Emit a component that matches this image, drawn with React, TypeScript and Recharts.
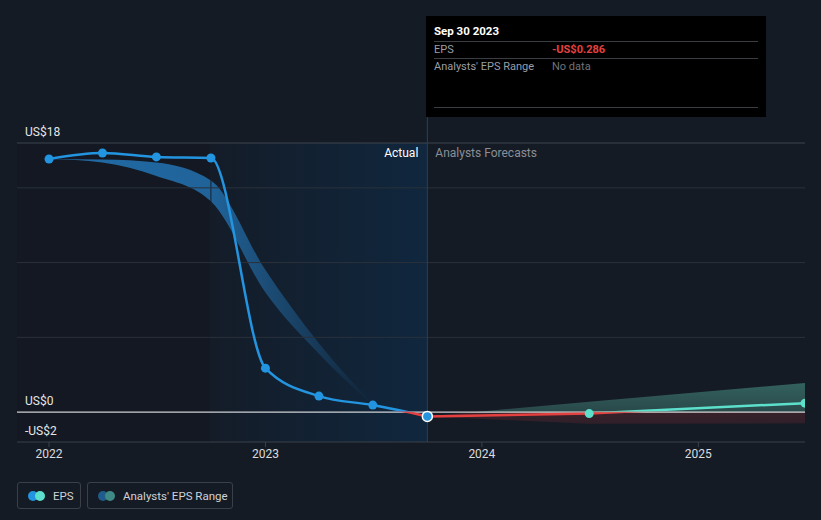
import React from "react";
import {
  ComposedChart,
  Line,
  Area,
  XAxis,
  YAxis,
  ReferenceLine,
  ReferenceArea,
} from "recharts";

const yearTicks = [2022, 2023, 2024, 2025];
const gridValues = [15, 10, 5];

const actualDates = [2022.0, 2022.247, 2022.496, 2022.748, 2023.0, 2023.247, 2023.496, 2023.748];
const epsActual = [16.93, 17.33, 17.07, 17.0, 2.94, 1.07, 0.47, -0.286];
const pastLow = [16.93, 16.7, 15.8, 14.1, 8.0, 3.9, 0.47];
const pastHigh = [16.93, 16.9, 16.7, 15.5, 9.5, 4.6, 0.55];

const forecastDates = [2023.748, 2024.496, 2025.493];
const epsForecast = [-0.286, -0.1, 0.6];
const futureLow = [-0.286, -0.78, -0.75];
const futureHigh = [-0.286, 0.7, 1.95];

const xMin = 2021.852;
const xMax = 2025.493;
const actualStart = 2022.748;
const lastActual = 2023.748;

const allDates = Array.from(new Set([...actualDates, ...forecastDates])).sort((a, b) => a - b);
const data = allDates.map((d) => {
  const ai = actualDates.indexOf(d);
  const fi = forecastDates.indexOf(d);
  const row: any = { date: d };
  if (ai >= 0) row.eps = epsActual[ai];
  if (ai >= 0 && ai < pastLow.length) row.pastRange = [pastLow[ai], pastHigh[ai]];
  if (fi >= 0) {
    row.forecast = epsForecast[fi];
    row.futureRange = [futureLow[fi], futureHigh[fi]];
  }
  return row;
});

const actMax = Math.max(...epsActual);
const actMin = Math.min(...epsActual);
const actZero = actMax / (actMax - actMin);
const fcMax = Math.max(...epsForecast);
const fcMin = Math.min(...epsForecast);
const fcZero = fcMax / (fcMax - fcMin);
const fuMax = Math.max(...futureHigh);
const fuMin = Math.min(...futureLow);
const fuZero = fuMax / (fuMax - fuMin);

const BLUE = "#2394df";
const RED = "#e5403f";
const TEAL = "#5ce0cc";
const FONT = "Roboto, 'Noto Sans', sans-serif";

const ActualDot = (props: any) => {
  const { cx, cy, payload } = props;
  if (cx == null || cy == null) return null;
  if (payload.date === lastActual) {
    return <circle cx={cx} cy={cy} r={5} fill={BLUE} stroke="#ffffff" strokeWidth={1.5} />;
  }
  return <circle cx={cx} cy={cy} r={4.5} fill={BLUE} />;
};

const ForecastDot = (props: any) => {
  const { cx, cy, payload } = props;
  if (cx == null || cy == null || payload.date === lastActual) return null;
  return <circle cx={cx} cy={cy} r={4.5} fill={TEAL} />;
};

const yLabel = (text: string) => (props: any) => {
  const vb = props.viewBox || {};
  return (
    <text x={25} y={vb.y - 10} fill="#e6e6e6" fontSize={12} fontFamily={FONT} dominantBaseline="middle">
      {text}
    </text>
  );
};

const dividerLabel = (props: any) => {
  const vb = props.viewBox || {};
  return (
    <g fontFamily={FONT} fontSize={12}>
      <text x={vb.x - 9} y={154} fill="#ffffff" textAnchor="end" dominantBaseline="middle">
        Actual
      </text>
      <text x={vb.x + 8} y={154} fill="#8a8f96" textAnchor="start" dominantBaseline="middle">
        Analysts Forecasts
      </text>
    </g>
  );
};

export default function App() {
  return (
    <div
      style={{
        position: "absolute",
        left: 0,
        top: 0,
        width: 821,
        height: 520,
        background: "#151b25",
        fontFamily: FONT,
        overflow: "hidden",
      }}
    >
      <ComposedChart
        width={821}
        height={520}
        data={data}
        margin={{ top: 143, right: 16, bottom: 48, left: 17 }}
      >
        <defs>
          <linearGradient id="highlight" x1="0" y1="0" x2="1" y2="0">
            <stop offset="0" stopColor="#141c28" />
            <stop offset="1" stopColor="#10273e" />
          </linearGradient>
          <linearGradient id="pastBand" x1="0" y1="0" x2="1" y2="0">
            <stop offset="0" stopColor="#2270ae" stopOpacity={0.95} />
            <stop offset="0.5" stopColor="#2270ae" stopOpacity={0.85} />
            <stop offset="0.8" stopColor="#2270ae" stopOpacity={0.35} />
            <stop offset="1" stopColor="#2270ae" stopOpacity={0} />
          </linearGradient>
          <linearGradient id="futureBand" x1="0" y1="0" x2="0" y2="1">
            <stop offset="0" stopColor="#386e69" stopOpacity={0.85} />
            <stop offset={fuZero} stopColor="#2d504f" stopOpacity={0.85} />
            <stop offset={fuZero} stopColor="#3a222a" stopOpacity={0.9} />
            <stop offset="1" stopColor="#33202a" stopOpacity={0.9} />
          </linearGradient>
          <linearGradient id="actStroke" x1="0" y1="0" x2="0" y2="1">
            <stop offset="0" stopColor={BLUE} />
            <stop offset={actZero - 0.006} stopColor={BLUE} />
            <stop offset={actZero + 0.002} stopColor={RED} />
            <stop offset="1" stopColor={RED} />
          </linearGradient>
          <linearGradient id="fcStroke" x1="0" y1="0" x2="0" y2="1">
            <stop offset="0" stopColor={TEAL} />
            <stop offset={fcZero - 0.08} stopColor={TEAL} />
            <stop offset={fcZero + 0.05} stopColor={RED} />
            <stop offset="1" stopColor={RED} />
          </linearGradient>
        </defs>

        <XAxis
          dataKey="date"
          type="number"
          domain={[xMin, xMax]}
          ticks={yearTicks}
          allowDataOverflow
          height={30}
          tickFormatter={(v: number) => String(Math.round(v))}
          axisLine={{ stroke: "#3b4049", strokeWidth: 1 }}
          tickLine={{ stroke: "#3b4049" }}
          tickSize={5}
          tick={{ fill: "#dcdcdc", fontSize: 12, fontFamily: FONT }}
        />
        <YAxis hide type="number" domain={[-2, 18]} allowDataOverflow />

        <ReferenceArea
          x1={xMin}
          x2={actualStart}
          y1={-2}
          y2={18}
          fill="#000000"
          fillOpacity={0.08}
          stroke="none"
        />
        <ReferenceArea
          x1={actualStart}
          x2={lastActual}
          y1={-2}
          y2={18}
          fill="url(#highlight)"
          fillOpacity={1}
          stroke="none"
        />
        <ReferenceLine x={actualStart} stroke="#17212c" strokeWidth={1} />

        <ReferenceLine y={18} stroke="#3e444d" strokeWidth={1} label={yLabel("US$18")} />
        {gridValues.map((g) => (
          <ReferenceLine key={g} y={g} stroke="#2a313b" strokeWidth={1} />
        ))}
        <ReferenceLine y={-2} stroke="none" label={yLabel("-US$2")} />

        <Area
          dataKey="pastRange"
          type="monotone"
          stroke="none"
          fill="url(#pastBand)"
          fillOpacity={1}
          isAnimationActive={false}
          activeDot={false}
        />
        <Area
          dataKey="futureRange"
          type="linear"
          stroke="none"
          fill="url(#futureBand)"
          fillOpacity={1}
          isAnimationActive={false}
          activeDot={false}
        />

        <ReferenceLine
          segment={[
            { x: lastActual, y: -2 },
            { x: lastActual, y: 19.73 },
          ]}
          ifOverflow="visible"
          stroke="#1e4466"
          strokeWidth={1}
        />
        <ReferenceLine x={lastActual} stroke="none" label={dividerLabel} />

        <ReferenceLine y={0} stroke="#ffffff" strokeWidth={1} label={yLabel("US$0")} />

        <Line
          dataKey="forecast"
          type="linear"
          stroke="url(#fcStroke)"
          strokeWidth={2.5}
          dot={<ForecastDot />}
          activeDot={false}
          isAnimationActive={false}
        />
        <Line
          dataKey="eps"
          type="monotone"
          stroke="url(#actStroke)"
          strokeWidth={2.5}
          dot={<ActualDot />}
          activeDot={false}
          isAnimationActive={false}
        />
      </ComposedChart>

      <div
        style={{
          position: "absolute",
          left: 426,
          top: 16,
          width: 340,
          height: 101,
          background: "#000000",
          boxSizing: "border-box",
          padding: "0 8px",
          fontSize: 11,
        }}
      >
        <div style={{ height: 25, lineHeight: "30px", color: "#ffffff", fontWeight: 700, fontSize: 11.5 }}>
          Sep 30 2023
        </div>
        <div style={{ borderTop: "1px solid #3a3d42", height: 16, lineHeight: "16px", display: "flex" }}>
          <span style={{ width: 118, color: "#9a9ea4" }}>EPS</span>
          <span style={{ color: RED, fontWeight: 700 }}>-US$0.286</span>
        </div>
        <div style={{ borderTop: "1px solid #3a3d42", height: 16, lineHeight: "16px", display: "flex" }}>
          <span style={{ width: 118, color: "#9a9ea4" }}>Analysts' EPS Range</span>
          <span style={{ color: "#6f7379" }}>No data</span>
        </div>
        <div style={{ position: "absolute", left: 8, right: 8, top: 91, borderTop: "1px solid #3a3d42" }} />
      </div>

      <div style={{ position: "absolute", left: 17, top: 482, display: "flex", gap: 6, fontSize: 11.5 }}>
        {[
          { name: "EPS", c1: BLUE, c2: TEAL, w: 64 },
          { name: "Analysts' EPS Range", c1: "#1f5c8c", c2: "#3f8a85", w: 146 },
        ].map((item) => (
          <div
            key={item.name}
            style={{
              width: item.w,
              height: 27,
              flexShrink: 0,
              boxSizing: "border-box",
              border: "1px solid #3a3f48",
              borderRadius: 3,
              display: "flex",
              alignItems: "center",
              paddingLeft: 10,
              color: "#cfd2d6",
              whiteSpace: "nowrap",
            }}
          >
            <span style={{ position: "relative", width: 17, height: 10, marginRight: 8, flexShrink: 0 }}>
              <span style={{ position: "absolute", left: 0, top: 0, width: 10, height: 10, borderRadius: 5, background: item.c1 }} />
              <span style={{ position: "absolute", left: 7, top: 0, width: 10, height: 10, borderRadius: 5, background: item.c2 }} />
            </span>
            {item.name}
          </div>
        ))}
      </div>
    </div>
  );
}
